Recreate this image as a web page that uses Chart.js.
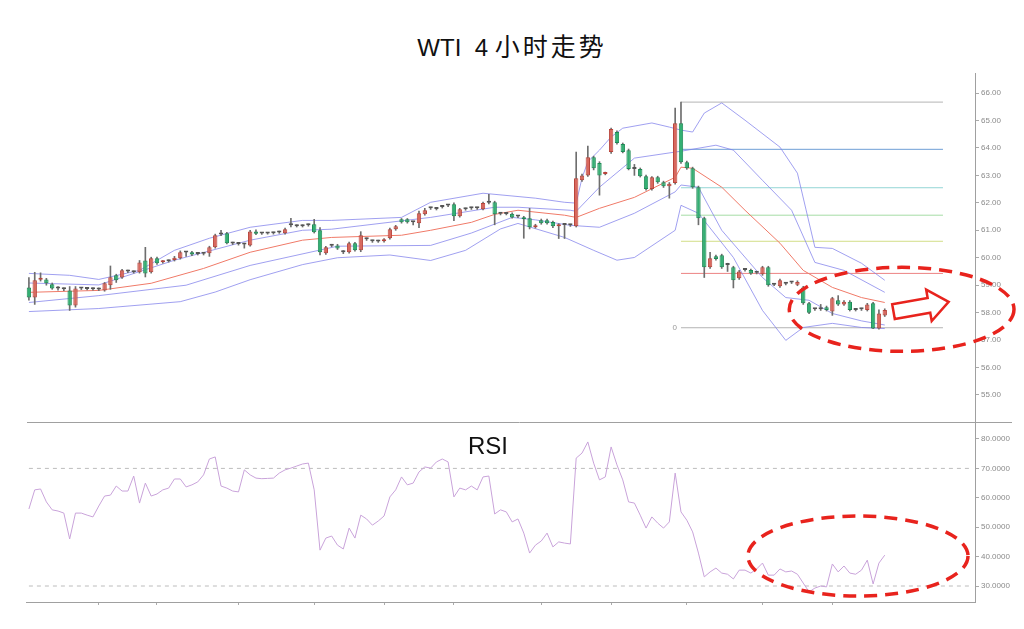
<!DOCTYPE html>
<html>
<head>
<meta charset="utf-8">
<script src="https://cdn.jsdelivr.net/npm/chart.js@4.4.0/dist/chart.umd.min.js"></script>
<style>
    body { margin: 0; background: #fff; width: 1024px; height: 629px; position: relative; overflow: hidden;
           font-family: "Liberation Sans", Arial, "Noto Sans CJK SC", sans-serif; }
    #title { position: absolute; left: 0; top: 31px; width: 1024px; text-align: center; font-size: 24px; line-height: 28px; color: #111; }
    #title .cjk { font-family: "Noto Sans CJK SC", sans-serif; letter-spacing: 3px; font-size: 25px; }
    #rsiLabel { position: absolute; left: 468px; top: 434px; font-size: 24px; line-height: 24px; color: #111; }
    #priceChart { position: absolute; left: 0; top: 0; }
    #rsiChart { position: absolute; left: 0; top: 423px; }
</style>
</head>
<body>
<div id="title">WTI &nbsp;4 <span class="cjk">小时走势</span></div>
<canvas id="priceChart" width="1024" height="424"></canvas>
<canvas id="rsiChart" width="1024" height="206"></canvas>
<div id="rsiLabel">RSI</div>
<script>
// 4h candles
var N_SLOTS = 163;
var opens = [58.92, 58.55, 59.20, 59.21, 59.03, 58.90, 58.87, 58.81, 58.26, 58.88,
    58.87, 58.85, 58.86, 58.81, 59.00, 59.36, 59.28, 59.50, 59.47, 59.47,
    59.90, 59.47, 59.98, 59.84, 59.87, 59.92, 59.98, 60.20, 60.20, 60.14,
    60.16, 60.16, 60.38, 60.85, 60.89, 60.53, 60.50, 60.50, 60.45, 60.96,
    60.89, 60.88, 60.89, 60.92, 60.89, 61.18, 61.15, 61.15, 61.18, 61.22,
    61.00, 60.16, 60.45, 60.45, 60.22, 60.20, 60.53, 60.27, 60.67, 60.60,
    60.60, 60.60, 60.71, 61.04, 61.40, 61.40, 61.29, 61.26, 61.58, 61.80,
    61.78, 61.85, 61.90, 61.95, 61.51, 61.77, 61.80, 61.80, 61.77, 62.00,
    62.02, 61.60, 61.60, 61.60, 61.50, 61.47, 61.44, 61.11, 61.37, 61.37,
    61.30, 61.15, 61.20, 61.18, 61.15, 62.82, 63.00, 63.66, 63.45, 63.05,
    63.85, 64.58, 64.14, 63.92, 63.23, 63.23, 62.97, 62.50, 62.93, 62.75,
    62.60, 62.72, 64.90, 63.48, 63.26, 62.57, 61.44, 59.65, 60.05, 60.09,
    59.75, 59.65, 59.25, 59.55, 59.55, 59.45, 59.40, 59.65, 59.02, 58.96,
    59.05, 59.10, 59.02, 58.92, 58.34, 58.12, 58.12, 58.20, 58.04, 58.45,
    58.30, 58.40, 58.10, 58.12, 58.10, 58.34, 57.42, 57.90];
var highs = [59.28, 59.47, 59.45, 59.25, 59.08, 58.95, 58.90, 58.95, 58.95, 58.92,
    58.90, 58.90, 58.90, 59.10, 59.70, 59.40, 59.58, 59.55, 59.52, 59.90,
    60.38, 60.02, 60.02, 59.90, 59.92, 60.05, 60.25, 60.22, 60.23, 60.18,
    60.19, 60.42, 60.86, 61.00, 60.93, 60.57, 60.54, 60.53, 61.00, 61.02,
    60.92, 60.92, 60.93, 60.97, 61.08, 61.44, 61.20, 61.20, 61.23, 61.40,
    61.10, 60.42, 60.49, 60.49, 60.26, 60.57, 60.56, 60.95, 60.72, 60.64,
    60.64, 60.70, 61.08, 61.18, 61.43, 61.43, 61.33, 61.70, 61.80, 61.84,
    61.82, 61.89, 61.94, 62.00, 61.80, 61.81, 61.84, 61.84, 62.03, 62.31,
    62.06, 61.64, 61.64, 61.64, 61.54, 61.51, 61.80, 61.22, 61.41, 61.41,
    61.34, 61.24, 61.24, 61.22, 63.85, 63.05, 64.07, 63.70, 63.50, 63.12,
    64.72, 64.62, 64.18, 63.96, 63.40, 63.27, 63.01, 62.96, 62.97, 62.79,
    62.74, 65.45, 65.67, 63.52, 63.30, 62.61, 61.48, 60.20, 60.10, 60.13,
    59.80, 59.69, 59.54, 59.59, 59.59, 59.49, 59.69, 59.69, 59.06, 59.22,
    59.09, 59.14, 59.16, 58.96, 58.38, 58.16, 58.30, 58.24, 58.56, 58.62,
    58.44, 58.44, 58.14, 58.16, 58.34, 58.38, 58.10, 58.14];
var lows = [58.45, 58.30, 59.15, 59.00, 58.85, 58.82, 58.80, 58.08, 58.20, 58.84,
    58.83, 58.82, 58.80, 58.78, 58.85, 59.10, 59.25, 59.46, 59.44, 59.44,
    59.30, 59.44, 59.76, 59.80, 59.84, 59.88, 59.95, 60.05, 60.08, 60.10,
    60.10, 60.05, 60.35, 60.80, 60.50, 60.48, 60.46, 60.35, 60.42, 60.84,
    60.85, 60.86, 60.86, 60.89, 60.86, 61.12, 61.12, 61.12, 61.15, 60.90,
    60.10, 60.12, 60.40, 60.30, 60.15, 60.17, 60.24, 60.22, 60.63, 60.56,
    60.56, 60.57, 60.68, 61.00, 61.26, 61.26, 61.20, 61.10, 61.55, 61.76,
    61.74, 61.81, 61.86, 61.35, 61.48, 61.73, 61.76, 61.76, 61.74, 61.96,
    61.20, 61.56, 61.56, 61.44, 61.46, 60.71, 61.05, 61.08, 61.22, 61.22,
    61.10, 60.70, 60.70, 61.14, 61.12, 62.78, 62.96, 63.20, 62.28, 63.02,
    63.80, 64.14, 63.82, 63.20, 63.00, 62.94, 62.46, 62.46, 62.71, 62.56,
    62.17, 62.68, 63.44, 63.22, 62.53, 61.20, 59.28, 59.61, 59.91, 59.61,
    59.50, 58.90, 59.21, 59.51, 59.39, 59.41, 59.36, 58.96, 58.98, 58.92,
    59.01, 59.06, 58.98, 58.30, 57.96, 58.08, 58.08, 58.06, 57.90, 58.26,
    58.26, 58.06, 58.06, 58.08, 58.06, 57.42, 57.40, 57.86];
var closes = [58.55, 59.18, 59.25, 59.07, 58.88, 58.88, 58.85, 58.26, 58.88, 58.90,
    58.86, 58.86, 58.84, 59.07, 59.29, 59.18, 59.54, 59.50, 59.48, 59.83,
    59.43, 59.98, 59.80, 59.87, 59.88, 60.00, 60.20, 60.19, 60.12, 60.14,
    60.15, 60.38, 60.82, 60.86, 60.53, 60.52, 60.50, 60.48, 60.96, 60.87,
    60.88, 60.89, 60.90, 60.94, 61.04, 61.20, 61.16, 61.17, 61.19, 60.93,
    60.20, 60.38, 60.44, 60.34, 60.20, 60.53, 60.27, 60.82, 60.67, 60.60,
    60.59, 60.67, 61.04, 61.15, 61.29, 61.29, 61.29, 61.62, 61.73, 61.80,
    61.78, 61.85, 61.90, 61.51, 61.77, 61.77, 61.80, 61.81, 61.99, 62.00,
    61.58, 61.60, 61.59, 61.47, 61.50, 61.40, 61.11, 61.18, 61.26, 61.26,
    61.15, 61.20, 61.19, 61.18, 62.90, 63.00, 63.66, 63.26, 63.00, 63.10,
    64.69, 64.18, 63.85, 63.23, 63.23, 62.97, 62.50, 62.93, 62.75, 62.60,
    62.70, 64.90, 63.48, 63.26, 62.57, 61.44, 59.65, 59.98, 59.95, 59.65,
    59.74, 59.18, 59.50, 59.55, 59.43, 59.45, 59.65, 59.00, 59.02, 59.18,
    59.05, 59.10, 59.12, 58.34, 58.00, 58.12, 58.12, 58.10, 58.52, 58.30,
    58.40, 58.10, 58.10, 58.12, 58.30, 57.42, 57.97, 58.10];

// bollinger lines, [candle index, price] read at sample points
var bbUpperOuter = [[0, 59.43], [7, 59.36], [12, 59.21], [19, 59.54], [25, 60.27], [31, 60.71], [38, 61.11],
    [47, 61.36], [52, 61.36], [64, 61.47], [69, 62.02], [78, 62.35], [87, 62.17], [92, 62.02], [94, 61.99],
    [95, 62.90], [96, 63.50], [98, 63.92], [100, 64.40], [102, 64.72], [107, 64.91], [110, 64.76], [112, 64.65],
    [114, 64.58], [116, 65.27], [119, 65.64], [123, 65.01], [129, 64.03], [132, 63.08], [135, 60.38],
    [138, 60.34], [143, 59.80], [147, 59.18]];
var bbUpperInner = [[0, 59.08], [12, 59.01], [25, 59.91], [38, 60.64], [47, 61.00], [52, 61.04], [69, 61.47],
    [80, 61.84], [84, 61.84], [93, 61.73], [94, 61.69], [98, 62.57], [104, 63.63], [111, 63.85], [112, 63.88],
    [118, 64.10], [121, 63.92], [126, 62.82], [131, 61.73], [135, 59.83], [140, 59.54], [147, 58.74]];
var bbMiddle = [[0, 58.74], [12, 58.81], [21, 59.07], [30, 59.61], [38, 60.20], [47, 60.64], [52, 60.74],
    [64, 60.82], [69, 61.00], [76, 61.29], [80, 61.58], [84, 61.73], [92, 61.55], [94, 61.47], [98, 61.80],
    [104, 62.20], [111, 62.93], [112, 63.30], [114, 63.26], [119, 62.57], [123, 61.73], [129, 60.53],
    [133, 59.54], [138, 58.92], [143, 58.55], [147, 58.37]];
var bbLowerInner = [[0, 58.37], [12, 58.62], [27, 59.00], [38, 59.72], [53, 60.42], [69, 60.45], [76, 60.90],
    [83, 61.47], [87, 61.38], [93, 61.18], [98, 61.11], [104, 61.62], [111, 62.40], [112, 62.65], [115, 62.57],
    [119, 61.00], [126, 59.28], [130, 58.55], [134, 58.45], [138, 57.97], [143, 57.70], [147, 57.55]];
var bbLowerOuter = [[0, 58.04], [12, 58.15], [26, 58.40], [32, 58.75], [38, 59.20], [47, 59.75], [53, 60.00],
    [62, 60.10], [69, 59.90], [75, 60.27], [81, 61.05], [84, 61.25], [92, 60.74], [97, 60.27], [101, 59.91],
    [104, 60.01], [111, 61.00], [112, 61.91], [115, 61.62], [121, 60.01], [126, 58.08], [130, 56.99],
    [133, 57.46], [138, 57.61], [143, 57.46], [147, 57.42]];

// fibonacci retracement drawn from the 65.67 high
var fibStart = 112, fibEnd = 157;
var fibLevels = [65.67, 63.95, 62.55, 61.55, 60.60, 59.43, 57.45];
var fibColors = ['#b4b4b4', '#6f9fd6', '#93d6d6', '#a6dca6', '#d2de86', '#ec8282', '#b4b4b4'];

var priceTicks = [55, 56, 57, 58, 59, 60, 61, 62, 63, 64, 65, 66];

// RSI(14)
var rsi = [56.2, 62.7, 63.0, 58.6, 55.9, 55.5, 54.8, 46.0, 54.8, 54.8,
    54.1, 53.5, 57.2, 60.6, 60.9, 64.0, 62.3, 62.3, 67.4, 58.2,
    65.0, 60.6, 61.3, 62.7, 63.3, 66.4, 66.4, 63.7, 64.4, 65.4,
    67.8, 73.2, 73.9, 64.0, 63.3, 62.3, 62.0, 69.5, 67.8, 66.7,
    66.5, 66.6, 66.7, 68.4, 69.5, 70.1, 70.8, 71.5, 71.8, 62.7,
    42.2, 46.3, 47.0, 43.9, 42.6, 49.7, 46.3, 54.1, 52.8, 50.7,
    52.1, 53.8, 60.3, 62.7, 67.1, 64.4, 65.0, 68.8, 70.5, 70.1,
    72.2, 73.2, 72.2, 60.3, 63.3, 62.7, 64.0, 62.7, 67.1, 67.4,
    54.5, 55.9, 55.2, 51.8, 52.8, 48.0, 41.2, 43.9, 45.3, 48.0,
    43.3, 45.0, 44.6, 44.3, 73.5, 75.2, 79.0, 71.8, 66.1, 67.1,
    77.3, 71.2, 66.1, 58.6, 58.2, 54.1, 49.7, 53.5, 51.4, 49.7,
    51.8, 68.4, 55.2, 52.4, 48.4, 41.2, 33.1, 34.8, 36.1, 34.4,
    34.0, 32.4, 35.4, 35.4, 34.4, 35.8, 37.8, 33.7, 33.7, 35.8,
    34.8, 35.1, 34.0, 31.0, 28.0, 29.3, 30.0, 29.7, 37.5, 34.8,
    36.8, 34.4, 34.0, 35.4, 38.8, 30.7, 37.8, 40.5];
var rsiTicks = [30, 40, 50, 60, 70, 80];
var rsiGuides = [70, 30];
var timeTicks = [12, 22, 36, 49, 61, 73, 88, 100, 113, 126, 138];

var labels = [];
for (var i = 0; i < N_SLOTS; i++) labels.push(i);

function sparse(pairs) {
    var arr = new Array(N_SLOTS).fill(null);
    pairs.forEach(function (p) { arr[p[0]] = p[1]; });
    return arr;
}

function candleColor(idx, dark) {
    var d = closes[idx] - opens[idx];
    if (Math.abs(d) < 0.025) return dark ? '#555555' : '#7a7a7a';
    if (d > 0) return dark ? '#b8453c' : '#d9685e';
    return dark ? '#1d8a55' : '#33b073';
}

function lineSet(data, color, order, extra) {
    var ds = {
        type: 'line', data: data, borderColor: color, borderWidth: 1,
        pointRadius: 0, spanGaps: true, fill: false, tension: 0, order: order
    };
    for (var k in extra) ds[k] = extra[k];
    return ds;
}

// keep the plot area exactly where the layout padding puts it
function fixAxis(s) {
    s.width = 49;
    s.paddingTop = 0;
    s.paddingBottom = 0;
}

// annotation helpers (positions in data units)
function drawEllipse(chart, cx, cy, hw, hh) {
    var xs = chart.scales.x, ys = chart.scales.y, ctx = chart.ctx;
    var px = xs.getPixelForValue(cx), py = ys.getPixelForValue(cy);
    var rx = xs.getPixelForValue(cx + hw) - px;
    var ry = py - ys.getPixelForValue(cy + hh);
    ctx.save();
    ctx.strokeStyle = '#e8231d';
    ctx.lineWidth = 3.5;
    ctx.setLineDash([13, 8]);
    ctx.beginPath();
    ctx.ellipse(px, py, rx, ry, 0, 0, Math.PI * 2);
    ctx.stroke();
    ctx.restore();
}

var priceMarks = {
    id: 'priceMarks',
    afterDraw: function (chart) {
        var ctx = chart.ctx, area = chart.chartArea;
        var xs = chart.scales.x, ys = chart.scales.y;
        // pane separator
        ctx.save();
        ctx.strokeStyle = '#a0a0a0';
        ctx.lineWidth = 1;
        ctx.beginPath();
        ctx.moveTo(area.left + 1, area.bottom - 0.5);
        ctx.lineTo(1012, area.bottom - 0.5);
        ctx.stroke();
        // fib "0" label
        ctx.fillStyle = '#999';
        ctx.font = '8px "Liberation Sans", Arial';
        ctx.textAlign = 'right';
        ctx.textBaseline = 'middle';
        ctx.fillText('0', xs.getPixelForValue(fibStart) - 4, ys.getPixelForValue(fibLevels[6]));
        ctx.restore();

        drawEllipse(chart, 149.9, 58.12, 19.3, 1.53);

        // hollow arrow
        var ax = xs.getPixelForValue(148.5), ay = ys.getPixelForValue(58.04);
        ctx.save();
        ctx.translate(ax, ay);
        ctx.rotate(-10 * Math.PI / 180);
        ctx.beginPath();
        ctx.moveTo(0, -7.5);
        ctx.lineTo(36, -7.5);
        ctx.lineTo(36, -16);
        ctx.lineTo(56, 0);
        ctx.lineTo(36, 16);
        ctx.lineTo(36, 7.5);
        ctx.lineTo(0, 7.5);
        ctx.closePath();
        ctx.fillStyle = '#fff';
        ctx.fill();
        ctx.strokeStyle = '#e8231d';
        ctx.lineWidth = 2.5;
        ctx.lineJoin = 'miter';
        ctx.stroke();
        ctx.restore();
    }
};

var rsiMarks = {
    id: 'rsiMarks',
    afterDraw: function (chart) {
        drawEllipse(chart, 142.4, 40.2, 18.9, 13.6);
    }
};

var datasets = [];
datasets.push({
    type: 'bar',
    data: opens.map(function (o, j) { return [o, closes[j]]; }),
    backgroundColor: opens.map(function (o, j) { return candleColor(j, false); }),
    borderColor: opens.map(function (o, j) { return candleColor(j, true); }),
    borderWidth: 1, borderSkipped: false, minBarLength: 2,
    barPercentage: 0.75, categoryPercentage: 1, grouped: false, order: 0
});
datasets.push({
    type: 'bar',
    data: lows.map(function (l, j) { return [l, highs[j]]; }),
    backgroundColor: '#6e6e6e', barThickness: 1, grouped: false, order: 1
});
[bbUpperOuter, bbUpperInner, bbLowerInner, bbLowerOuter].forEach(function (band) {
    datasets.push(lineSet(sparse(band), 'rgba(128,128,235,0.75)', 2));
});
datasets.push(lineSet(sparse(bbMiddle), '#f07a68', 2));
fibLevels.forEach(function (lvl, j) {
    datasets.push(lineSet(sparse([[fibStart, lvl], [fibEnd, lvl]]), fibColors[j], 3));
});

new Chart(document.getElementById('priceChart'), {
    type: 'bar',
    data: { labels: labels, datasets: datasets },
    options: {
        responsive: false,
        animation: false,
        layout: { padding: { left: 26, top: 73, right: 0, bottom: 1 } },
        plugins: { legend: { display: false }, tooltip: { enabled: false } },
        scales: {
            x: { type: 'category', offset: true, display: false },
            y: {
                position: 'right', min: 53.98, max: 66.73,
                afterBuildTicks: function (s) { s.ticks = priceTicks.map(function (v) { return { value: v }; }); },
                afterFit: fixAxis,
                grid: { drawOnChartArea: false, tickLength: 4, color: '#aaa' },
                border: { color: '#a0a0a0' },
                ticks: {
                    color: '#8a8a8a', padding: 2, font: { size: 8, family: '"Liberation Sans", Arial' },
                    callback: function (v) { return Number(v).toFixed(2); }
                }
            }
        }
    },
    plugins: [priceMarks]
});

var rsiSets = [
    lineSet(rsi, '#c9a3da', 0)
];
rsiGuides.forEach(function (g) {
    rsiSets.push(lineSet(sparse([[0, g], [N_SLOTS - 1, g]]), '#bdbdbd', 1, { borderDash: [4, 4] }));
});

new Chart(document.getElementById('rsiChart'), {
    type: 'line',
    data: { labels: labels, datasets: rsiSets },
    options: {
        responsive: false,
        animation: false,
        layout: { padding: { left: 26, top: 0, right: 0, bottom: 0 } },
        plugins: { legend: { display: false }, tooltip: { enabled: false } },
        scales: {
            x: {
                type: 'category', offset: true,
                afterBuildTicks: function (s) { s.ticks = timeTicks.map(function (v) { return { value: v }; }); },
                afterFit: function (s) { s.height = 27; s.paddingLeft = 0; s.paddingRight = 0; },
                grid: { drawOnChartArea: false, tickLength: 3, color: '#aaa' },
                border: { color: '#a0a0a0' },
                ticks: { display: false }
            },
            y: {
                position: 'right', min: 24.56, max: 85.44,
                afterBuildTicks: function (s) { s.ticks = rsiTicks.map(function (v) { return { value: v }; }); },
                afterFit: fixAxis,
                grid: { drawOnChartArea: false, tickLength: 4, color: '#aaa' },
                border: { color: '#a0a0a0' },
                ticks: {
                    color: '#8a8a8a', padding: 2, font: { size: 8, family: '"Liberation Sans", Arial' },
                    callback: function (v) { return Number(v).toFixed(4); }
                }
            }
        }
    },
    plugins: [rsiMarks]
});
</script>
</body>
</html>
